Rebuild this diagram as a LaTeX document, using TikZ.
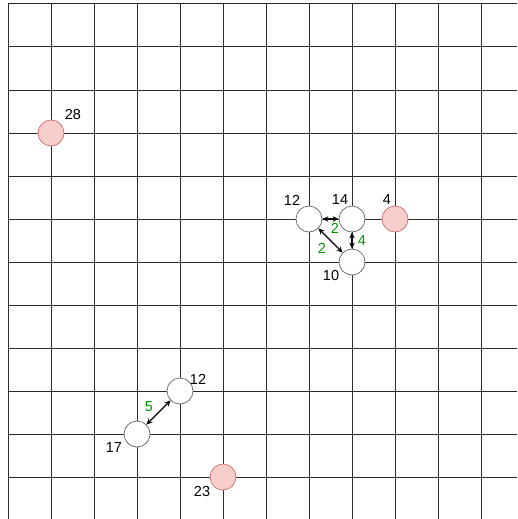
\documentclass[tikz,border=0pt]{standalone}
\usepackage{fontspec}
\setmainfont{Liberation Sans}
\usetikzlibrary{arrows.meta,calc}
\definecolor{gridC}{HTML}{2B2B2B}
\definecolor{spotF}{HTML}{F8CECC}
\definecolor{spotD}{HTML}{C8706C}
\definecolor{ringD}{HTML}{666666}
\definecolor{costC}{HTML}{009900}
\tikzset{
  gridline/.style={draw=gridC, line width=1pt},
  dot/.style={circle, minimum size=26pt, inner sep=0pt, line width=0.7pt},
  free/.style={dot, fill=white, draw=ringD},
  spot/.style={dot, fill=spotF, draw=spotD},
  num/.style={font=\fontsize{14.5}{17}\selectfont, inner sep=0pt},
  cost/.style={num, text=costC},
  arr/.style={{Stealth[length=6pt,width=5.5pt]}-{Stealth[length=6pt,width=5.5pt]}, line width=1.2pt},
}
\begin{document}
\begin{tikzpicture}[x=1pt, y=-1pt]
\useasboundingbox (0,0) rectangle (517,519);
\fill[white] (0,0) rectangle (517,519);
% grid
\foreach \k in {0,...,11} {
  \draw[gridline] ({8+43*\k},4) -- ({8+43*\k},519);
  \draw[gridline] (8,{4+43*\k}) -- (517,{4+43*\k});
}
% points
\node[spot] (p28) at (51,133) {};
\node[free] (p12a) at (309,219) {};
\node[free] (p14) at (352,219) {};
\node[spot] (p4) at (395,219) {};
\node[free] (p10) at (352,262) {};
\node[free] (p12b) at (180,391) {};
\node[free] (p17) at (137,434) {};
\node[spot] (p23) at (223,477) {};
% numbers
\node[num] (l28) at (73,115) {28};
\node[num] (l12a) at (292,200) {12};
\node[num] (l14) at (340,200) {14};
\node[num] (l4) at (387,200) {4};
\node[num] (l10) at (331,276) {10};
\node[num] (l12b) at (198,379) {12};
\node[num] (l17) at (114,448) {17};
\node[num] (l23) at (202,492) {23};
% links
\draw[arr] (p12a) -- node[cost, xshift=4.5pt, yshift=-9pt] {2} (p14);
\draw[arr] (p14) -- node[cost, xshift=10pt] {4} (p10);
\draw[arr] (p12a) -- node[cost, xshift=-8.5pt, yshift=-7.5pt] {2} (p10);
\draw[arr] (p17) -- node[cost, xshift=-9.5pt, yshift=5.5pt] {5} (p12b);
\end{tikzpicture}
\end{document}
